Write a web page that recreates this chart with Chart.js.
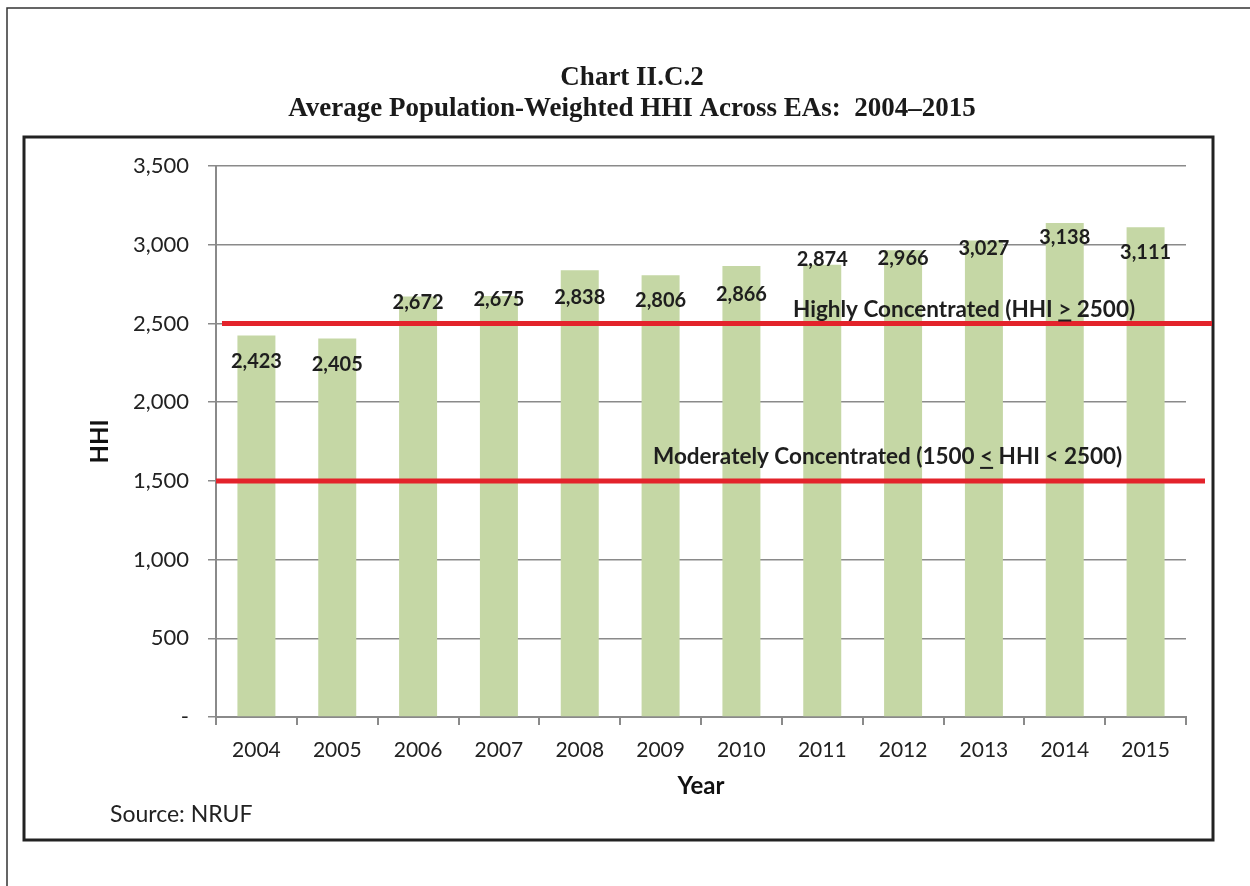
<!DOCTYPE html>
<html>
<head>
<meta charset="utf-8">
<script src="https://cdn.jsdelivr.net/npm/chart.js@4"></script>
<style>
  html, body { margin: 0; padding: 0; background: #fff; }
  #wrap { width: 1250px; height: 886px; }
</style>
</head>
<body>
<div id="wrap"><canvas id="hhiChart" width="1250" height="886"></canvas></div>
<script>
// data
const years = ['2004', '2005', '2006', '2007', '2008', '2009', '2010', '2011', '2012', '2013', '2014', '2015'];
const hhiValues = [2423, 2405, 2672, 2675, 2838, 2806, 2866, 2874, 2966, 3027, 3138, 3111];
const yTicks = [0, 500, 1000, 1500, 2000, 2500, 3000, 3500];
const thresholds = [2500, 1500];
const thresholdLabels = [
    ['Highly Concentrated (HHI ', '>', ' 2500)'],
    ['Moderately Concentrated (1500 ', '<', ' HHI < 2500)']
];

const FONT = 'Lato, "Open Sans", sans-serif';

// text with the comparison sign underlined (the original uses > / < with an underscore)
function underlinedText(ctx, parts, x, y) {
    ctx.textAlign = 'left';
    ctx.textBaseline = 'middle';
    const w0 = ctx.measureText(parts[0]).width;
    const w1 = ctx.measureText(parts[1]).width;
    ctx.fillText(parts[0] + parts[1] + parts[2], x, y);
    ctx.fillRect(x + w0, y + 10, w1, 2);
}

// frame, red threshold lines, value labels, source
const decorations = {
    id: 'decorations',
    beforeDraw(chart) {
        const ctx = chart.ctx;
        ctx.save();
        ctx.fillStyle = '#fff';
        ctx.fillRect(0, 0, chart.width, chart.height);
        // page edges
        ctx.strokeStyle = '#333';
        ctx.lineWidth = 1.5;
        ctx.beginPath();
        ctx.moveTo(7, 886);
        ctx.lineTo(7, 8);
        ctx.lineTo(1250, 8);
        ctx.stroke();
        // chart box
        ctx.strokeStyle = '#222';
        ctx.lineWidth = 3;
        ctx.strokeRect(24, 137, 1189, 703);
        ctx.restore();
    },
    afterDatasetsDraw(chart, args, opts) {
        const ctx = chart.ctx;
        const y = chart.scales.y;
        const area = chart.chartArea;
        ctx.save();

        // threshold lines
        ctx.strokeStyle = '#e3232b';
        ctx.lineWidth = 5;
        thresholds.forEach((t, i) => {
            const py = y.getPixelForValue(t);
            ctx.beginPath();
            ctx.moveTo(area.left + (i === 0 ? 6 : 0), py);
            ctx.lineTo(i === 0 ? 1212 : 1205, py);
            ctx.stroke();
        });

        // value labels
        const meta = chart.getDatasetMeta(0);
        ctx.fillStyle = '#1e1e1e';
        ctx.font = 'bold 20px ' + FONT;
        ctx.textAlign = 'center';
        ctx.textBaseline = 'middle';
        meta.data.forEach((bar, i) => {
            const txt = hhiValues[i].toLocaleString('en-US');
            ctx.fillText(txt, bar.x, bar.y + opts.labelDy[i]);
        });

        // threshold captions
        ctx.font = 'bold 22.5px ' + FONT;
        ctx.fillStyle = '#1e1e1e';
        thresholds.forEach((t, i) => {
            const py = y.getPixelForValue(t) + opts.captionDy[i];
            underlinedText(ctx, thresholdLabels[i], area.left + opts.captionDx[i], py);
        });

        // source
        ctx.font = '23px ' + FONT;
        ctx.fillStyle = '#222';
        ctx.textAlign = 'left';
        ctx.fillText('Source: NRUF', 110, 815);
        ctx.restore();
    }
};

const ctx = document.getElementById('hhiChart').getContext('2d');
const chart = new Chart(ctx, {
    type: 'bar',
    data: {
        labels: years,
        datasets: [{
            label: 'HHI',
            data: hhiValues,
            backgroundColor: '#c5d7a5',
            borderWidth: 0,
            barPercentage: 0.47,
            categoryPercentage: 1.0
        }]
    },
    options: {
        responsive: false,
        animation: false,
        layout: { padding: { left: 78, right: 64, top: 0, bottom: 70 } },
        scales: {
            x: {
                grid: {
                    offset: true,
                    drawOnChartArea: false,
                    color: '#8a8a8a',
                    lineWidth: 2,
                    tickLength: 8
                },
                border: { color: '#8a8a8a', width: 2 },
                ticks: { color: '#222', font: { family: FONT, size: 21 }, padding: 13 },
                title: {
                    display: true,
                    text: 'Year',
                    color: '#111',
                    font: { family: FONT, size: 24, weight: 'bold' },
                    padding: { top: 6, bottom: 15 }
                },
                afterFit(scale) { scale.height = 99; }
            },
            y: {
                min: 0,
                max: 3500,
                afterBuildTicks(scale) { scale.ticks = yTicks.map(v => ({ value: v })); },
                grid: { color: '#8a8a8a', lineWidth: 1.5, tickLength: 8 },
                border: { color: '#8a8a8a', width: 2 },
                ticks: {
                    color: '#222',
                    font: { family: FONT, size: 22 },
                    padding: 19,
                    callback: v => v === 0 ? '-' : v.toLocaleString('en-US')
                },
                title: {
                    display: true,
                    text: 'HHI',
                    color: '#111',
                    font: { family: FONT, size: 24, weight: 'bold' },
                    padding: { top: 8, bottom: 0 }
                },
                afterFit(scale) { scale.width = 138; }
            }
        },
        plugins: {
            legend: { display: false },
            tooltip: { enabled: false },
            title: {
                display: true,
                text: ['Chart II.C.2', 'Average Population-Weighted HHI Across EAs:  2004\u20132015'],
                color: '#1a1a1a',
                font: { family: '"Liberation Serif", "Times New Roman", serif', size: 27, weight: 'bold', lineHeight: 1.15 },
                padding: { top: 62.5, bottom: 41.5 }
            },
            decorations: {
                labelDy: [26, 26, 6, 4, 27, 25, 29, -5, 8, 8, 14, 25],
                captionDx: [577, 437],
                captionDy: [-14, -24]
            }
        }
    },
    plugins: [decorations]
});
</script>
</body>
</html>
